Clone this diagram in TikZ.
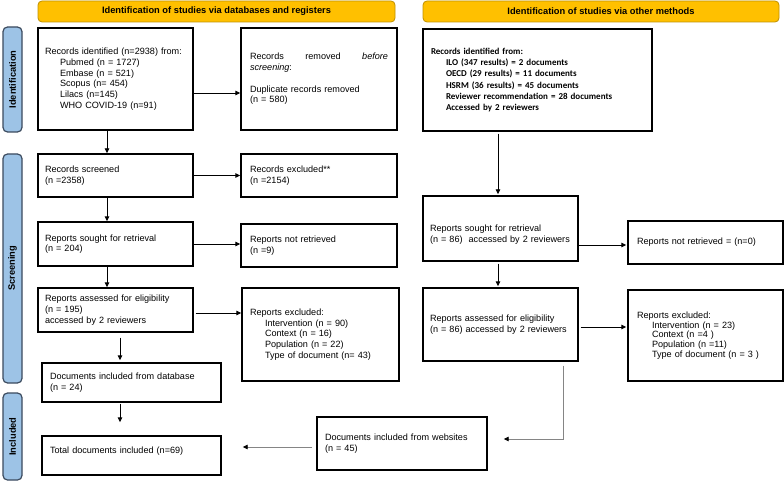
\documentclass[tikz,border=0pt]{standalone}
\usepackage{fontspec}
\setmainfont{Liberation Sans}
\newfontfamily\calfont{Carlito}
\usetikzlibrary{arrows.meta}
\definecolor{gold}{HTML}{FFC000}
\definecolor{golddark}{HTML}{BF9000}
\definecolor{barblue}{HTML}{9DC3E6}
\definecolor{bardark}{HTML}{3B4A5E}
\definecolor{lgray}{HTML}{858585}
\newcommand{\subind}{\hspace*{15pt}}
\begin{document}
\begin{tikzpicture}[x=1pt,y=-1pt,
  font=\fontsize{9.1}{10.7}\selectfont,
  box/.style={draw, line width=1.4pt, inner xsep=7pt, inner ysep=0pt, align=left,
    execute at begin node={\hyphenpenalty=10000\relax}},
  hdr/.style={draw=golddark, fill=gold, rounded corners=4pt, line width=0.8pt,
    font=\bfseries\fontsize{9.3}{10.7}\selectfont, inner sep=0pt},
  bar/.style={draw=bardark, fill=barblue, rounded corners=4.5pt, line width=1.2pt,
    inner sep=0pt, rotate=90, font=\bfseries\fontsize{9.3}{10.7}\selectfont},
  arr/.style={-{Triangle[length=5pt,width=4.5pt,color=black]}, line width=0.9pt},
  garr/.style={arr, draw=lgray}
]
\useasboundingbox (0,0) rectangle (784,481);

% headers
\node[hdr, minimum width=357pt, minimum height=21pt] (h1) at (216.5,11.5)
  {Identification of studies via databases and registers};
\node[hdr, minimum width=356pt, minimum height=21pt] (h2) at (601,11.5)
  {Identification of studies via other methods};

% side bars
\node[bar, minimum width=105pt, minimum height=19pt] (b1) at (12.5,79.5) {Identification};
\node[bar, minimum width=229pt, minimum height=19pt] (b2) at (12.5,268.5) {Screening};
\node[bar, minimum width=87pt, minimum height=19pt] (b3) at (12.5,436.5) {Included};

% left column
\node[box, minimum width=155pt, minimum height=102pt, text width=141pt] (A) at (115.5,79)
  {Records identified (n=2938) from:\\
   \subind Pubmed (n = 1727)\\
   \subind Embase (n = 521)\\
   \subind Scopus (n= 454)\\
   \subind Lilacs (n=145)\\
   \subind WHO COVID-19 (n=91)};
\node[box, inner xsep=9pt, minimum width=156pt, minimum height=102pt, text width=138pt] (B) at (319,79)
  {Records\hfill removed\hfill \textit{before}\\
   \textit{screening}:\\[10.7pt]
   Duplicate records removed\\
   (n = 580)};
\node[box, minimum width=155pt, minimum height=43pt, text width=141pt] (C) at (115.5,175.5)
  {Records screened\\ (n =2358)};
\node[box, inner xsep=9pt, minimum width=156pt, minimum height=43pt, text width=138pt] (D) at (319,175.5)
  {Records excluded**\\ (n =2154)};
\node[box, minimum width=155pt, minimum height=44pt, text width=141pt] (E) at (115.5,244)
  {Reports sought for retrieval\\ (n = 204)};
\node[box, inner xsep=9pt, minimum width=156pt, minimum height=43pt, text width=138pt] (F) at (319,245.5)
  {Reports not retrieved\\ (n =9)};
\node[box, minimum width=155pt, minimum height=44pt, text width=141pt] (G) at (115.5,310)
  {Reports assessed for eligibility\\ (n = 195)\\ accessed by 2 reviewers};
\node[box, inner xsep=8pt, minimum width=157pt, minimum height=93pt, text width=141pt] (H) at (320.5,334.5)
  {Reports excluded:\\
   \subind Intervention (n = 90)\\
   \subind Context (n = 16)\\
   \subind Population (n = 22)\\
   \subind Type of document (n= 43)};
\node[box, inner xsep=8pt, minimum width=179pt, minimum height=39pt, text width=163pt] (I) at (131.5,382.5)
  {Documents included from database\\ (n = 24)};
\node[box, inner xsep=8pt, minimum width=179pt, minimum height=39pt, text width=163pt] (J) at (131.5,455.5)
  {Total documents included (n=69)\\ \mbox{}};

% right column
\node[box, inner xsep=8pt, minimum width=229pt, minimum height=102pt, text width=213pt,
  font=\calfont\bfseries\fontsize{9.0}{11.3}\selectfont] (L) at (537.5,80)
  {Records identified from:\\
   \subind ILO (347 results) = 2 documents\\
   \subind OECD (29 results) = 11 documents\\
   \subind HSRM (36 results) = 45 documents\\
   \subind Reviewer recommendation = 28 documents\\
   \subind Accessed by 2 reviewers};
\node[box, minimum width=155pt, minimum height=65pt, text width=141pt] (M) at (500.5,228.5)
  {\mbox{}\\[8pt] Reports sought for retrieval\\ (n = 86)\ \ accessed by 2 reviewers};
\node[box, inner xsep=9pt, minimum width=155pt, minimum height=43pt, text width=137pt] (N) at (705.5,242.5)
  {Reports not retrieved = (n=0)};
\node[box, minimum width=155pt, minimum height=73pt, text width=141pt] (O) at (500.5,324.5)
  {Reports assessed for eligibility\\ (n = 86) accessed by 2 reviewers};
\node[box, inner xsep=9pt, minimum width=155pt, minimum height=91pt, text width=137pt,
  font=\fontsize{9.1}{9.8}\selectfont] (P) at (705.5,335.5)
  {Reports excluded:\\
   \subind Intervention (n = 23)\\
   \subind Context (n =4 )\\
   \subind Population (n =11)\\
   \subind Type of document (n = 3 )};
\node[box, inner xsep=8pt, minimum width=170pt, minimum height=53pt, text width=154pt] (K) at (402,443.5)
  {Documents included from websites\\ (n = 45)};

% connectors left
\draw[arr] ([yshift=-14pt]A.east) -- ([yshift=-14pt]A.east -| B.west);
\draw[arr] ([xshift=-8.5pt]A.south) -- ([xshift=-8.5pt]A.south |- C.north);
\draw[arr] (C.east) -- (C.east -| D.west);
\draw[arr] ([xshift=-8.5pt]C.south) -- ([xshift=-8.5pt]C.south |- E.north);
\draw[arr] (E.east) -- (E.east -| F.west);
\draw[arr] ([xshift=-8.5pt]E.south) -- ([xshift=-8.5pt]E.south |- G.north);
\draw[arr, shorten <=2pt] ([yshift=-3pt]G.east) -- ([yshift=-3pt]G.east -| H.west);
\draw[arr, shorten <=5pt, shorten >=2pt] ([xshift=4.5pt]G.south) -- ([xshift=4.5pt]G.south |- I.north);
\draw[arr, shorten <=1pt, shorten >=13pt] ([xshift=-11.5pt]I.south) -- ([xshift=-11.5pt]I.south |- J.north);

% connectors right
\draw[arr, shorten <=2pt, shorten >=1pt] ([xshift=-39.5pt]L.south) -- ([xshift=-39.5pt]L.south |- M.north);
\draw[arr, shorten >=1pt] ([yshift=-16.5pt]M.east) -- ([yshift=-16.5pt]M.east -| N.west);
\draw[arr, shorten <=2pt, shorten >=1pt] ([xshift=-2.5pt]M.south) -- ([xshift=-2.5pt]M.south |- O.north);
\draw[arr, shorten <=2pt, shorten >=1pt] ([yshift=-2.5pt]O.east) -- ([yshift=-2.5pt]O.east -| P.west);
\coordinate (ok) at ([yshift=4.5pt]K.east);
\draw[garr, shorten <=4pt, shorten >=16pt] ([xshift=62.5pt]O.south) |- (ok);
\draw[garr, shorten <=4pt, shorten >=21pt] ([yshift=-3.5pt]K.west) -- ([yshift=-3.5pt]K.west -| J.east);
\end{tikzpicture}
\end{document}
